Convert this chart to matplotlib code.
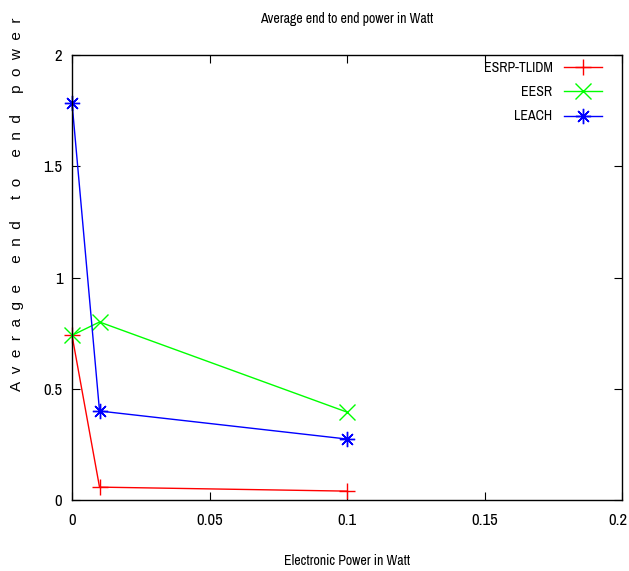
import matplotlib
matplotlib.use("Agg")
import matplotlib.pyplot as plt
from matplotlib.ticker import MultipleLocator, FormatStrFormatter
from matplotlib.transforms import ScaledTranslation

plt.rcParams["font.family"] = ["Archivo Narrow", "Liberation Sans", "DejaVu Sans"]

x_values = [0.0, 0.01, 0.1]
esrp_tlidm = [0.74, 0.058, 0.04]
eesr = [0.74, 0.80, 0.395]
leach = [1.785, 0.40, 0.274]

series_names = ["ESRP-TLIDM", "EESR", "LEACH"]
series_colors = ["#ff0000", "#00ff00", "#0000ff"]
series_markers = ["+", "x", (8, 2, 0)]

y_label = "     ".join("  ".join(w) for w in "Average end to end power".split())


def make_figure():
    fig = plt.figure(figsize=(6.29, 5.71), dpi=100)
    ax = fig.add_axes([0.1145, 0.1243, 0.8745, 0.7794])

    for values, name, color, marker in zip(
        [esrp_tlidm, eesr, leach], series_names, series_colors, series_markers
    ):
        ax.plot(
            x_values,
            values,
            color=color,
            marker=marker,
            markersize=11,
            markeredgewidth=1.0,
            linewidth=1.0,
            label=name,
            clip_on=False,
        )

    ax.set_xlim(0.0, 0.2)
    ax.set_ylim(0.0, 2.0)
    ax.xaxis.set_major_locator(MultipleLocator(0.05))
    ax.yaxis.set_major_locator(MultipleLocator(0.5))
    ax.xaxis.set_major_formatter(FormatStrFormatter("%g"))
    ax.yaxis.set_major_formatter(FormatStrFormatter("%g"))
    ax.tick_params(direction="in", top=True, right=True, length=6, width=0.8,
                   labelsize=12)
    ax.tick_params(axis="x", pad=9)
    ax.tick_params(axis="y", pad=7)
    for spine in ax.spines.values():
        spine.set_linewidth(1.0)

    ax.set_title("Average end to end power in Watt", fontsize=10, pad=23)
    ax.set_xlabel("Electronic Power in Watt", fontsize=10, labelpad=19)
    ax.set_ylabel(y_label, fontsize=11, family=["Liberation Sans", "DejaVu Sans"])
    ax.yaxis.set_label_coords(-0.088, 0.665)

    leg = ax.legend(
        loc="upper right",
        bbox_to_anchor=(0.9745, 1.0),
        borderaxespad=0.0,
        frameon=False,
        markerfirst=False,
        fontsize=10,
        handlelength=2.75,
        handletextpad=0.85,
        labelspacing=0.75,
    )
    for txt in leg.get_texts():
        txt.set_ha("right")

    # keep the last x tick label inside the canvas, as in the original
    fig.canvas.draw()
    for tick in ax.xaxis.get_major_ticks():
        if abs(tick.get_loc() - 0.2) < 1e-9:
            lbl = tick.label1
            lbl.set_transform(lbl.get_transform()
                              + ScaledTranslation(-3 / 72, 0, fig.dpi_scale_trans))
    return fig


def main():
    fig = make_figure()
    fig.savefig("out.png", dpi=100)


if __name__ == "__main__":
    main()
